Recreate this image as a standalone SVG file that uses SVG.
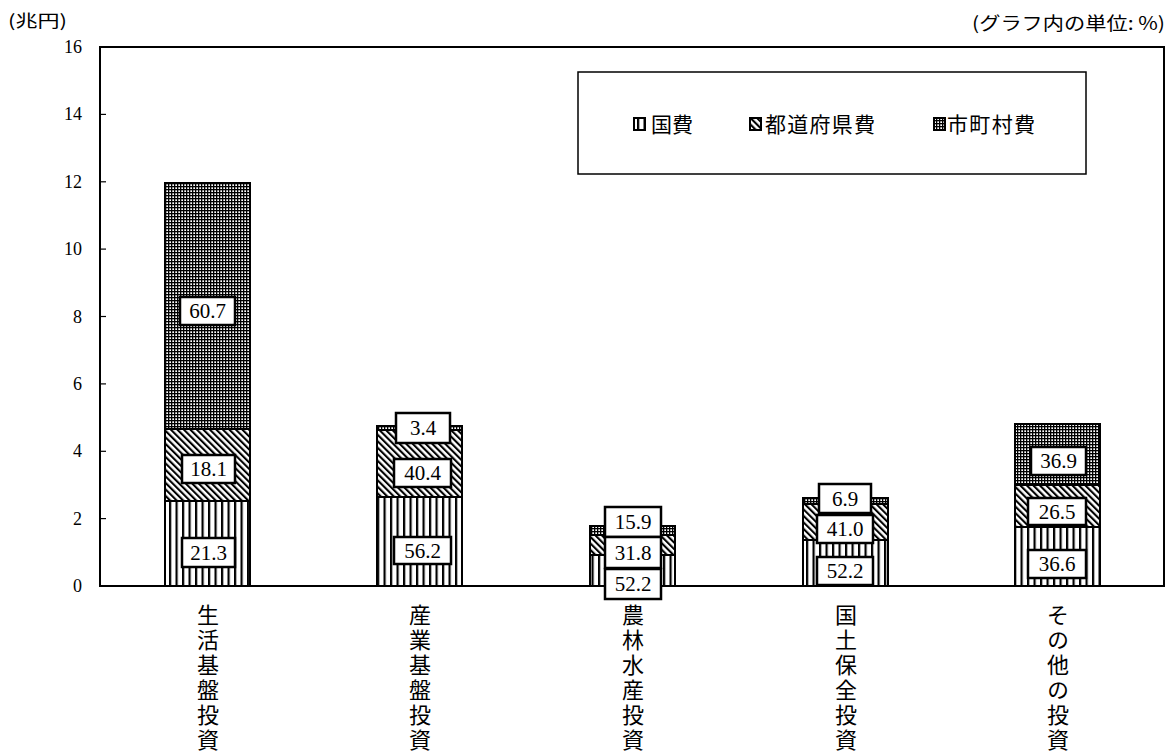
<svg xmlns="http://www.w3.org/2000/svg" width="1173" height="752" viewBox="0 0 1173 752">
<defs>
<pattern id="pV" patternUnits="userSpaceOnUse" width="6.5" height="10"><rect width="6.5" height="10" fill="#fff"/><rect x="0" width="2.2" height="10" fill="#000"/></pattern>
<pattern id="pD" patternUnits="userSpaceOnUse" width="4.6" height="5" patternTransform="rotate(-45)"><rect width="4.6" height="5" fill="#fff"/><rect width="2.1" height="5" fill="#000"/></pattern>
<pattern id="pG" patternUnits="userSpaceOnUse" width="3" height="3"><rect width="3" height="3" fill="#fff"/><rect width="3" height="1.3" fill="#000"/><rect width="1.3" height="3" fill="#000"/></pattern>
<style>
.seg{stroke:#000;stroke-width:2}
.v{fill:url(#pV)}.d{fill:url(#pD)}.g{fill:url(#pG)}
.box{fill:#fff;stroke:#000;stroke-width:2.5}
.num{font-family:"Liberation Serif",serif;font-size:21px;text-anchor:middle;fill:#000}
.ax{font-family:"Liberation Serif",serif;font-size:18px;text-anchor:end;fill:#000}
.jp{font-family:"Noto Sans CJK JP",sans-serif;fill:#000}
.cat{font-family:"Noto Sans CJK JP",sans-serif;font-size:22px;fill:#000;writing-mode:vertical-rl;letter-spacing:3px}
</style>
</defs>
<rect width="1173" height="752" fill="#fff"/>
<g id="axes">
<rect x="100" y="47" width="1064" height="539" fill="none" stroke="#000" stroke-width="2"/>
<g stroke="#000" stroke-width="1.2">
<line x1="100" y1="518.6" x2="106" y2="518.6"/><line x1="100" y1="451.3" x2="106" y2="451.3"/><line x1="100" y1="383.9" x2="106" y2="383.9"/><line x1="100" y1="316.5" x2="106" y2="316.5"/><line x1="100" y1="249.1" x2="106" y2="249.1"/><line x1="100" y1="181.8" x2="106" y2="181.8"/><line x1="100" y1="114.4" x2="106" y2="114.4"/>
</g>
<text class="ax" x="82" y="592">0</text><text class="ax" x="82" y="525">2</text><text class="ax" x="82" y="457">4</text><text class="ax" x="82" y="390">6</text><text class="ax" x="82" y="323">8</text><text class="ax" x="82" y="255">10</text><text class="ax" x="82" y="188">12</text><text class="ax" x="82" y="120">14</text><text class="ax" x="82" y="53">16</text>
<text class="jp" x="8" y="27" font-size="17" textLength="59" lengthAdjust="spacingAndGlyphs">(兆円)</text>
<text class="jp" x="972" y="30" font-size="18" textLength="193" lengthAdjust="spacingAndGlyphs">(グラフ内の単位: %)</text>
</g>
<g id="legend">
<rect x="578" y="72" width="508" height="102" fill="#fff" stroke="#000" stroke-width="1.5"/>
<rect x="634" y="118" width="11" height="12" class="seg v"/>
<text class="jp" x="651" y="132" font-size="21">国費</text>
<rect x="750" y="118" width="11" height="12" class="seg d"/>
<text class="jp" x="765" y="132" font-size="21" textLength="110">都道府県費</text>
<rect x="934" y="118" width="11" height="12" class="seg g"/>
<text class="jp" x="947" y="132" font-size="21" textLength="88">市町村費</text>
</g>
<g id="bar1">
<rect x="165" y="501" width="85" height="85" class="seg v"/>
<rect x="165" y="429" width="85" height="72" class="seg d"/>
<rect x="165" y="183" width="85" height="246" class="seg g"/>
<rect x="180" y="297" width="55" height="28" class="box"/><text class="num" x="207.5" y="318">60.7</text>
<rect x="182" y="455" width="53" height="28" class="box"/><text class="num" x="208.5" y="476">18.1</text>
<rect x="182" y="538" width="53" height="29" class="box"/><text class="num" x="208.5" y="559.5">21.3</text>
<text class="cat" x="208" y="604">生活基盤投資</text>
</g>
<g id="bar2">
<rect x="377" y="497" width="85" height="89" class="seg v"/>
<rect x="377" y="430" width="85" height="67" class="seg d"/>
<rect x="377" y="426" width="85" height="4" class="seg g"/>
<rect x="396" y="413" width="54" height="30" class="box"/><text class="num" x="423" y="435">3.4</text>
<rect x="394" y="459" width="57" height="28" class="box"/><text class="num" x="422.5" y="480">40.4</text>
<rect x="394" y="537" width="57" height="27" class="box"/><text class="num" x="422.5" y="558">56.2</text>
<text class="cat" x="420" y="604">産業基盤投資</text>
</g>
<g id="bar3">
<rect x="590" y="555" width="85" height="31" class="seg v"/>
<rect x="590" y="535" width="85" height="20" class="seg d"/>
<rect x="590" y="526" width="85" height="9" class="seg g"/>
<rect x="605" y="507" width="56" height="30" class="box"/><text class="num" x="633" y="529">15.9</text>
<rect x="605" y="537" width="56" height="31" class="box"/><text class="num" x="633" y="560">31.8</text>
<rect x="605" y="569" width="56" height="30" class="box"/><text class="num" x="633" y="591">52.2</text>
<text class="cat" x="633" y="604">農林水産投資</text>
</g>
<g id="bar4">
<rect x="803" y="540" width="85" height="46" class="seg v"/>
<rect x="803" y="504" width="85" height="36" class="seg d"/>
<rect x="803" y="498" width="85" height="6" class="seg g"/>
<rect x="819" y="484" width="52" height="29" class="box"/><text class="num" x="845" y="506">6.9</text>
<rect x="817" y="515" width="56" height="28" class="box"/><text class="num" x="845" y="536">41.0</text>
<rect x="817" y="557" width="56" height="28" class="box"/><text class="num" x="845" y="578">52.2</text>
<text class="cat" x="846" y="604">国土保全投資</text>
</g>
<g id="bar5">
<rect x="1015" y="527" width="85" height="59" class="seg v"/>
<rect x="1015" y="485" width="85" height="42" class="seg d"/>
<rect x="1015" y="424" width="85" height="61" class="seg g"/>
<rect x="1031" y="447" width="55" height="28" class="box"/><text class="num" x="1058.5" y="468">36.9</text>
<rect x="1028" y="498" width="58" height="27" class="box"/><text class="num" x="1057" y="519">26.5</text>
<rect x="1028" y="550" width="58" height="28" class="box"/><text class="num" x="1057" y="571">36.6</text>
<text class="cat" x="1058" y="604">その他の投資</text>
</g>
</svg>
